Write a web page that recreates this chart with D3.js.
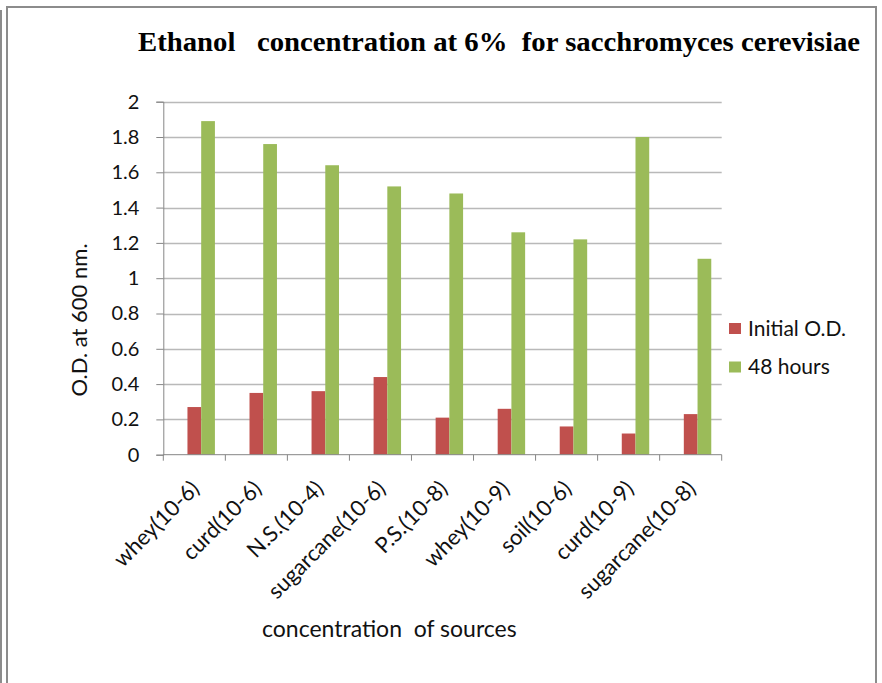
<!DOCTYPE html>
<html>
<head>
<meta charset="utf-8">
<script src="https://cdn.jsdelivr.net/npm/d3@7"></script>
<style>
  html, body { margin: 0; padding: 0; background: #fff; }
  svg { display: block; }
  text { white-space: pre; }
</style>
</head>
<body>
<svg id="chart" width="882" height="683"></svg>
<script>
// Sources and dilutions on the x axis
const categories = ["whey(10-6)", "curd(10-6)", "N.S.(10-4)", "sugarcane(10-6)", "P.S.(10-8)",
                    "whey(10-9)", "soil(10-6)", "curd(10-9)", "sugarcane(10-8)"];
// Optical density at 600 nm
const initialOD = [0.27, 0.35, 0.36, 0.44, 0.21, 0.26, 0.16, 0.12, 0.23];
const hours48   = [1.89, 1.76, 1.64, 1.52, 1.48, 1.26, 1.22, 1.80, 1.11];
const seriesNames = ["Initial O.D.", "48 hours"];
const seriesColors = ["#C0504D", "#9BBB59"];
const yTicks = [0, 0.2, 0.4, 0.6, 0.8, 1, 1.2, 1.4, 1.6, 1.8, 2];

const svg = d3.select("#chart");
const font = "Lato, 'Open Sans', sans-serif";

// Outer frame
svg.append("line").attr("x1", 1).attr("x2", 1).attr("y1", 10).attr("y2", 683)
  .attr("stroke", "#8c8c8c").attr("stroke-width", 2);
svg.append("path").attr("d", "M7,690 V7 H876 V690")
  .attr("fill", "none").attr("stroke", "#8c8c8c").attr("stroke-width", 2);

const plot = { left: 163.3, right: 721.7, top: 101.7, bottom: 454.7 };

const y = d3.scaleLinear().domain([0, 2]).range([plot.bottom, plot.top]);
const x0 = d3.scaleBand().domain(categories).range([plot.left, plot.right]);
// Three slots per group; the first one is left empty
const slots = ["", ...seriesNames];
const x1 = d3.scaleBand().domain(slots).range([0, x0.bandwidth()]).paddingOuter(0.76);

// Gridlines
svg.append("g").selectAll("line").data(yTicks.slice(1)).join("line")
  .attr("x1", plot.left).attr("x2", plot.right)
  .attr("y1", d => Math.round(y(d)) + 0.5).attr("y2", d => Math.round(y(d)) + 0.5)
  .attr("stroke", "#b9b9b9").attr("stroke-width", 1.3);

// Bars
const values = [initialOD, hours48];
const barG = svg.append("g");
seriesNames.forEach((name, si) => {
  barG.append("g").selectAll("rect").data(categories).join("rect")
    .attr("x", d => x0(d) + x1(name))
    .attr("width", x1.bandwidth())
    .attr("y", (d, i) => y(values[si][i]))
    .attr("height", (d, i) => y(0) - y(values[si][i]))
    .attr("fill", seriesColors[si]);
});

// Y axis
const yAxis = d3.axisLeft(y).tickValues(yTicks).tickSize(7).tickPadding(17)
  .tickFormat(d => String(d));
const gy = svg.append("g").attr("transform", `translate(${plot.left},0)`).call(yAxis);
gy.select(".domain").attr("stroke", "#868686");
gy.selectAll(".tick line").attr("stroke", "#868686");
gy.selectAll(".tick text").attr("font-family", font).attr("font-size", 20).attr("fill", "#111");

// X axis: baseline with tick marks at category boundaries
const boundaries = categories.map(c => x0(c)).concat([plot.right]);
svg.append("line").attr("x1", plot.left).attr("x2", plot.right)
  .attr("y1", plot.bottom).attr("y2", plot.bottom).attr("stroke", "#868686");
svg.append("g").selectAll("line").data(boundaries).join("line")
  .attr("x1", d => d).attr("x2", d => d)
  .attr("y1", plot.bottom).attr("y2", plot.bottom + 6).attr("stroke", "#868686");

// Rotated category labels
svg.append("g").selectAll("text").data(categories).join("text")
  .attr("transform", d => `translate(${x0(d) + x0.bandwidth() / 2 + 1},${plot.bottom + 30}) rotate(-45)`)
  .attr("text-anchor", "end").attr("dy", "0.35em")
  .attr("font-family", font).attr("font-size", 22).attr("fill", "#111")
  .text(d => d);

// Title
svg.append("text").attr("x", 138).attr("y", 51)
  .attr("font-family", "'Liberation Serif', 'Times New Roman', serif")
  .attr("font-weight", "bold").attr("font-size", 28).attr("fill", "#000")
  .attr("textLength", 722).attr("lengthAdjust", "spacingAndGlyphs")
  .text("Ethanol   concentration at 6%  for sacchromyces cerevisiae");

// Axis titles
svg.append("text").attr("transform", "translate(87,320) rotate(-90)")
  .attr("text-anchor", "middle")
  .attr("font-family", font).attr("font-size", 22).attr("fill", "#111")
  .text("O.D. at 600 nm.");
svg.append("text").attr("x", 262).attr("y", 637)
  .attr("font-family", font).attr("font-size", 23).attr("fill", "#111")
  .text("concentration  of sources");

// Legend
const legend = svg.append("g");
seriesNames.forEach((name, i) => {
  const ly = 323 + i * 38.5;
  legend.append("rect").attr("x", 729).attr("y", ly).attr("width", 12).attr("height", 11)
    .attr("fill", seriesColors[i]);
  legend.append("text").attr("x", 748).attr("y", ly + 5.5).attr("dy", "0.35em")
    .attr("font-family", font).attr("font-size", 21).attr("fill", "#111")
    .text(name);
});
</script>
</body>
</html>
